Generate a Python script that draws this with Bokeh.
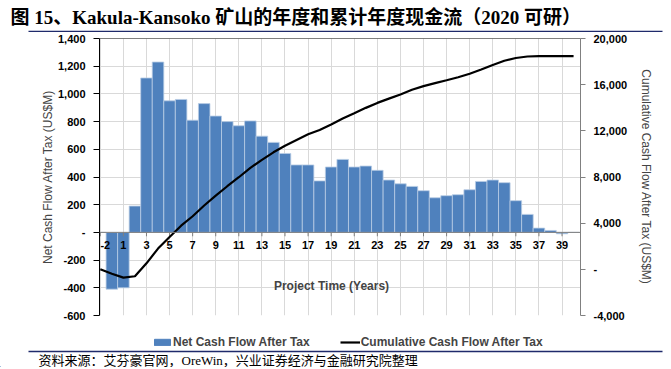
from bokeh.plotting import figure
from bokeh.layouts import column
from bokeh.models import (Range1d, LinearAxis, FixedTicker, Span, Label, Legend,
                          LegendItem, ColumnDataSource, NumeralTickFormatter)
from bokeh.core.properties import value
from bokeh.embed import file_html
from bokeh.resources import INLINE

# ---------------- data ----------------
years = ["-2", "-1", "1", "2", "3", "4", "5", "6", "7", "8", "9", "10", "11", "12", "13",
         "14", "15", "16", "17", "18", "19", "20", "21", "22", "23", "24", "25", "26",
         "27", "28", "29", "30", "31", "32", "33", "34", "35", "36", "37", "38", "39", "40"]
net_cf = [0, -410, -400, 190, 1115, 1230, 950, 960, 810, 930, 840, 800, 770, 805, 695,
          650, 570, 487, 487, 372, 472, 527, 472, 479, 448, 378, 351, 332, 301, 250,
          265, 272, 308, 368, 378, 359, 229, 130, 31, 14, -10, 0]
cum_cf = [0, -380, -720, -600, 520, 1800, 2800, 3780, 4600, 5530, 6380, 7200, 7980, 8790,
          9490, 10140, 10710, 11210, 11700, 12080, 12550, 13060, 13520, 13990, 14420,
          14790, 15150, 15560, 15870, 16130, 16380, 16640, 16950, 17320, 17710, 18070,
          18310, 18440, 18470, 18480, 18480, 18470]
xtick_labels = ["-2", "1", "3", "5", "7", "9", "11", "13", "15", "17", "19", "21", "23",
                "25", "27", "29", "31", "33", "35", "37", "39"]
left_ticks = [-600, -400, -200, 0, 200, 400, 600, 800, 1000, 1200, 1400]
right_ticks = [-4000, 0, 4000, 8000, 12000, 16000, 20000]

title_text = "图 15、Kakula-Kansoko 矿山的年度和累计年度现金流（2020 可研）"
source_text = "资料来源：艾芬豪官网，OreWin，兴业证券经济与金融研究院整理"
bar_name = "Net Cash Flow After Tax"
line_name = "Cumulative Cash Flow After Tax"
x_title = "Project Time (Years)"
left_title = "Net Cash Flow After Tax (US$M)"
right_title = "Cumulative Cash Flow After Tax (US$M)"

SANS = "Liberation Sans"
SERIF = "Liberation Serif, Noto Sans CJK SC"
BLUE = "#4F81BD"
NAVY = "#1F2A6B"

W = 669
TOP_H = 32
ML, MR, MT, MB = 99, 89, 6, 8
FW, FH = W - ML - MR, 277
MAIN_H = MT + FH + MB
BOT_H = 44


def blank_fig(h):
    f = figure(width=W, height=h, output_backend="svg", toolbar_location=None,
               x_range=Range1d(0, W), y_range=Range1d(0, h),
               x_axis_type=None, y_axis_type=None, frame_align=False,
               min_border_left=0, min_border_right=0, min_border_top=0, min_border_bottom=0)
    f.grid.visible = False
    f.outline_line_color = None
    f.background_fill_color = "white"
    f.border_fill_color = "white"
    return f


# ---------------- title strip ----------------
top = blank_fig(TOP_H)
top.text(x=[10], y=[TOP_H - 17], text=[title_text], text_align="left", text_baseline="middle",
         text_font=value(SERIF), text_font_style="bold", text_font_size="19px",
         text_color="black")
top.segment(x0=[28], y0=[1], x1=[662], y1=[1], line_color=NAVY, line_width=1.5)

# ---------------- main chart ----------------
xs = list(range(len(years)))
src = ColumnDataSource(dict(x=xs, net=net_cf, cum=cum_cf))

p = figure(width=W, height=MAIN_H, output_backend="svg", toolbar_location=None,
           x_range=Range1d(-0.07, 41.6), y_range=Range1d(-600, 1400), frame_align=False,
           min_border_left=ML, min_border_right=MR, min_border_top=MT, min_border_bottom=MB)
p.extra_y_ranges = {"cum": Range1d(-4000, 20000)}
p.outline_line_color = None
p.background_fill_color = "white"
p.border_fill_color = "white"

p.ygrid.ticker = FixedTicker(ticks=left_ticks)
p.ygrid.grid_line_color = "#D9D9D9"
tick_x = [years.index(t) for t in xtick_labels]
p.xgrid.ticker = FixedTicker(ticks=tick_x)
p.xgrid.grid_line_color = "#D9D9D9"
p.xaxis.visible = False

ya = p.yaxis[0]
ya.ticker = FixedTicker(ticks=left_ticks)
ya.formatter = NumeralTickFormatter(format="0,0")
ya.major_label_overrides = {0: "-"}
ya.axis_line_color = "black"
ya.major_tick_line_color = "black"
ya.major_tick_out = 6
ya.major_tick_in = 0
ya.minor_tick_line_color = None
ya.major_label_standoff = 8
ya.major_label_text_font = SANS
ya.major_label_text_font_style = "bold"
ya.major_label_text_font_size = "11px"
ya.major_label_text_color = "black"
ya.axis_label = left_title
ya.axis_label_text_font = SANS
ya.axis_label_text_font_style = "normal"
ya.axis_label_text_font_size = "12px"
ya.axis_label_standoff = 0

ra = LinearAxis(y_range_name="cum", ticker=FixedTicker(ticks=right_ticks),
                formatter=NumeralTickFormatter(format="0,0"))
ra.major_label_overrides = {0: "-"}
ra.axis_line_color = "#808080"
ra.major_tick_line_color = "#808080"
ra.major_tick_out = 5
ra.major_tick_in = 0
ra.minor_tick_line_color = None
ra.major_label_standoff = 8
ra.major_label_text_font = SANS
ra.major_label_text_font_style = "bold"
ra.major_label_text_font_size = "11px"
ra.major_label_text_color = "black"
ra.axis_label = right_title
ra.axis_label_text_font = SANS
ra.axis_label_text_font_style = "normal"
ra.axis_label_text_font_size = "12px"
ra.axis_label_standoff = 9
p.add_layout(ra, "right")

p.add_layout(Span(location=1400, dimension="width", line_color="black", line_width=1))

bars = p.vbar(x="x", top="net", width=1.0, source=src, fill_color=BLUE,
              line_color="#B9CDE5", line_width=0.8)

p.add_layout(Span(location=0, dimension="width", line_color="#7F7F7F", line_width=1))
p.segment(x0=tick_x, y0=[0] * len(tick_x), x1=tick_x, y1=[-28] * len(tick_x),
          line_color="#7F7F7F", line_width=1)
label_shift = [5 if t == years[0] else 0 for t in xtick_labels]
p.text(x=tick_x, y=[0] * len(tick_x), text=xtick_labels, text_align="center",
       text_baseline="top", x_offset=label_shift, y_offset=9, text_font=value(SANS),
       text_font_style="bold", text_font_size="11px", text_color="black")

line = p.line(x="x", y="cum", source=src, y_range_name="cum", line_color="black",
              line_width=2.2)

p.add_layout(Label(x=232, y=30, x_units="screen", y_units="screen",
                   text=x_title, text_align="center", text_baseline="middle",
                   text_font=SANS, text_font_style="bold", text_font_size="12px"))

# ---------------- legend + source strip ----------------
bot = blank_fig(BOT_H)
# legend proxies, kept outside the visible strip
proxy_bar = bot.vbar(x=[-100], top=[1], width=1, fill_color=BLUE, line_color=BLUE)
proxy_line = bot.line(x=[-100, -90], y=[1, 1], line_color="black", line_width=2.2)
legend = Legend(items=[LegendItem(label=bar_name, renderers=[proxy_bar]),
                       LegendItem(label=line_name, renderers=[proxy_line])],
                orientation="horizontal", location=(152, BOT_H - 26),
                label_text_font=SANS, label_text_font_style="bold",
                label_text_font_size="12px", glyph_width=20, glyph_height=8,
                spacing=30, padding=0, margin=0, label_standoff=1,
                border_line_color=None, background_fill_alpha=0)
bot.add_layout(legend)
bot.segment(x0=[28], y0=[BOT_H - 28], x1=[662], y1=[BOT_H - 28], line_color=NAVY,
            line_width=1.5)
bot.text(x=[38], y=[BOT_H - 37], text=[source_text], text_align="left",
         text_baseline="middle", text_font=value(SERIF), text_font_size="13px",
         text_color="black")

layout = column(top, p, bot, spacing=0)
open("out.html", "w").write(file_html(layout, INLINE))
